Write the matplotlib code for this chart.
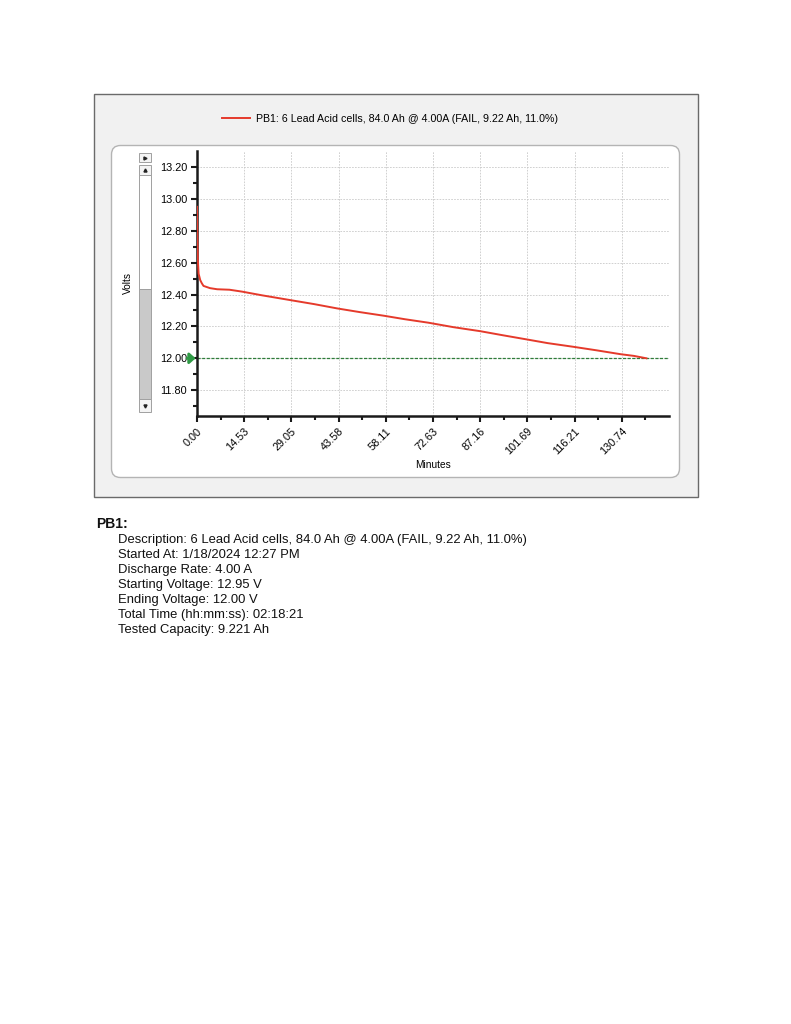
import numpy as np
import matplotlib
matplotlib.use('Agg')
import matplotlib.pyplot as plt
from matplotlib.patches import Rectangle, FancyBboxPatch
from matplotlib.lines import Line2D

plt.rcParams['font.family'] = ['Liberation Sans', 'DejaVu Sans']

# discharge curve
minutes = [0.0, 0.1, 0.25, 0.5, 1.0, 1.5, 2.0, 4.0, 6.2, 10.0, 13.9, 20.0, 28.7,
           36.0, 43.1, 50.0, 57.5, 64.0, 71.3, 79.0, 87.2, 94.0, 101.6, 108.0,
           115.9, 123.0, 130.3, 134.5, 138.35]
volts = [12.95, 12.78, 12.62, 12.53, 12.49, 12.47, 12.454, 12.44, 12.433, 12.43,
         12.418, 12.395, 12.365, 12.34, 12.313, 12.29, 12.267, 12.245, 12.223,
         12.195, 12.170, 12.145, 12.118, 12.095, 12.072, 12.05, 12.026, 12.015, 12.00]
cutoff = 12.00

x_ticks = [0.00, 14.53, 29.05, 43.58, 58.11, 72.63, 87.16, 101.69, 116.21, 130.74]
x_labels = ['0.00', '14.53', '29.05', '43.58', '58.11', '72.63', '87.16', '101.69', '116.21', '130.74']
y_ticks = [11.80, 12.00, 12.20, 12.40, 12.60, 12.80, 13.00, 13.20]

legend_txt = 'PB1: 6 Lead Acid cells, 84.0 Ah @ 4.00A (FAIL, 9.22 Ah, 11.0%)'
info_title = 'PB1:'
info_lines = ['Description: 6 Lead Acid cells, 84.0 Ah @ 4.00A (FAIL, 9.22 Ah, 11.0%)',
              'Started At: 1/18/2024 12:27 PM',
              'Discharge Rate: 4.00 A',
              'Starting Voltage: 12.95 V',
              'Ending Voltage: 12.00 V',
              'Total Time (hh:mm:ss): 02:18:21',
              'Tested Capacity: 9.221 Ah']

W, H = 791, 1024
fig = plt.figure(figsize=(W / 100, H / 100), dpi=100)

# background layer in pixel coordinates
bg = fig.add_axes([0, 0, 1, 1], zorder=0)
bg.set_xlim(0, W)
bg.set_ylim(H, 0)
bg.axis('off')

bg.add_patch(Rectangle((93.5, 93.5), 604, 403, facecolor='#f1f1f1', edgecolor='#6a6a6a', lw=1.0))
bg.add_patch(FancyBboxPatch((111.5, 145.5), 568, 332, boxstyle='round,pad=0,rounding_size=9',
                            facecolor='white', edgecolor='#b4b4b4', lw=1.0))

# scrollbar
sb_x, sb_w = 138.5, 12
bg.add_patch(Rectangle((sb_x, 153), sb_w, 9, facecolor='#f4f4f4', edgecolor='#a0a0a0', lw=0.7))
bg.add_patch(Rectangle((sb_x, 165), sb_w, 10, facecolor='#f4f4f4', edgecolor='#a0a0a0', lw=0.7))
bg.add_patch(Rectangle((sb_x, 175), sb_w, 114, facecolor='white', edgecolor='#a0a0a0', lw=0.7))
bg.add_patch(Rectangle((sb_x, 289), sb_w, 110, facecolor='#c9c9c9', edgecolor='#a0a0a0', lw=0.7))
bg.add_patch(Rectangle((sb_x, 399), sb_w, 13, facecolor='#f4f4f4', edgecolor='#a0a0a0', lw=0.7))
bg.plot([145], [157.5], marker='>', ms=2.2, color='#222222')
bg.plot([144.5], [170], marker='^', ms=2.2, color='#222222')
bg.plot([144.5], [405.5], marker='v', ms=2.2, color='#222222')

# chart
ax = fig.add_axes([197 / W, 1 - 415.7 / H, 472 / W, 264.7 / H], zorder=1)
ax.set_facecolor('none')
ax.plot(minutes, volts, color='#e53a2b', lw=1.4, zorder=3)
ax.axhline(cutoff, color='#2f7d3a', lw=0.9, ls=(0, (2.5, 1.2)), zorder=2)
ax.annotate('', xy=(0, cutoff), xycoords=('axes fraction', 'data'),
            xytext=(-10, 0), textcoords='offset pixels',
            arrowprops=dict(arrowstyle='-|>,head_length=0.5,head_width=0.45', color='#2f9a45',
                            lw=2.0, mutation_scale=7, shrinkA=0, shrinkB=1),
            annotation_clip=False)

ax.set_xlim(0, 145.3)
ax.set_ylim(11.64, 13.30)
ax.set_xticks(x_ticks)
ax.set_xticklabels(x_labels, rotation=45, ha='right', va='top', rotation_mode='anchor')
ax.set_xticks([t + 7.265 for t in x_ticks], minor=True)
ax.set_yticks(y_ticks)
ax.set_yticklabels(['%.2f' % v for v in y_ticks])
ax.set_yticks([v + 0.1 for v in [11.6] + y_ticks[:-1]], minor=True)

ax.grid(True, which='major', color='#c9c9c9', ls=(0, (2, 1.5)), lw=0.6)
for s in ['top', 'right']:
    ax.spines[s].set_visible(False)
for s in ['left', 'bottom']:
    ax.spines[s].set_linewidth(1.8)
    ax.spines[s].set_color('#1a1a1a')
ax.tick_params(which='major', length=4.5, width=1.5, color='#1a1a1a', labelsize=7.8, pad=2.5)
ax.tick_params(which='minor', length=3.2, width=1.5, color='#1a1a1a')
ax.tick_params(axis='x', pad=3)

ax.set_xlabel('Minutes', fontsize=7.3)
ax.set_ylabel('Volts', fontsize=7.3)
ax.yaxis.set_label_coords(-64 / 472, 0.5)
ax.xaxis.set_label_coords(0.5, -44 / 264.7)

fig.legend([Line2D([0], [0], color='#e53a2b', lw=1.4)], [legend_txt],
           loc='center left', bbox_to_anchor=(222 / W, 1 - 119 / H), frameon=False,
           fontsize=7.7, handlelength=2.6, handletextpad=0.6, borderpad=0, borderaxespad=0)

# info block under the chart
bg.text(96, 527.7, info_title, fontsize=10, fontweight='bold', va='baseline', color='#111111')
for i, line in enumerate(info_lines):
    bg.text(118, 543.3 + i * 14.9, line, fontsize=9.4, va='baseline', color='#111111')

fig.savefig('out.png', dpi=100)
